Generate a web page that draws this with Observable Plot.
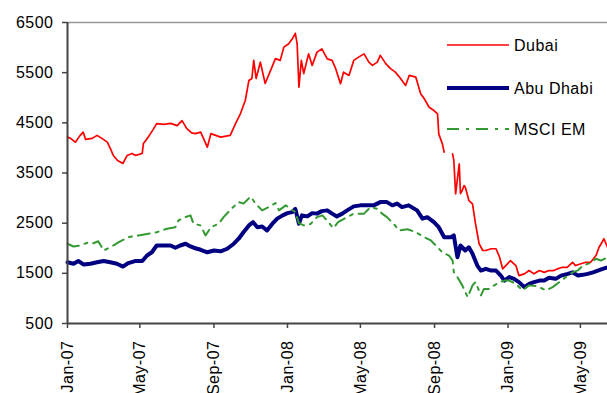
<!DOCTYPE html>
<html><head><meta charset="utf-8">
<script src="https://cdn.jsdelivr.net/npm/d3@7"></script>
<script src="https://cdn.jsdelivr.net/npm/@observablehq/plot@0.6"></script>
<style>
html,body{margin:0;padding:0;background:#fff;}
#chart{width:607px;height:393px;overflow:hidden;}
#chart svg text{letter-spacing:0.5px;}
</style></head><body><div id="chart"></div>
<script>
const seriesNames = ["Dubai", "Abu Dhabi", "MSCI EM"];
const seriesColors = ["#ff0000", "#000080", "#339933"];

const dubaiDates = ["2007-01-01","2007-01-06","2007-01-14","2007-01-22","2007-01-27","2007-01-31","2007-02-11","2007-02-19","2007-02-27","2007-03-08","2007-03-13","2007-03-18","2007-03-25","2007-04-03","2007-04-10","2007-04-18","2007-04-24","2007-05-05","2007-05-07","2007-05-15","2007-05-24","2007-05-29","2007-06-10","2007-06-21","2007-07-02","2007-07-10","2007-07-18","2007-07-26","2007-08-01","2007-08-10","2007-08-21","2007-08-27","2007-09-12","2007-09-28","2007-10-07","2007-10-15","2007-10-23","2007-10-29","2007-11-03","2007-11-06","2007-11-10","2007-11-17","2007-11-25","2007-12-04","2007-12-12","2007-12-20","2007-12-26","2008-01-03","2008-01-09","2008-01-14","2008-01-17","2008-01-20","2008-01-24","2008-01-28","2008-02-05","2008-02-11","2008-02-19","2008-02-27","2008-03-07","2008-03-15","2008-03-21","2008-03-29","2008-04-03","2008-04-12","2008-04-20","2008-04-28","2008-05-07","2008-05-15","2008-05-21","2008-05-29","2008-06-03","2008-06-12","2008-06-20","2008-06-28","2008-07-07","2008-07-15","2008-07-21","2008-08-01","2008-08-09","2008-08-15","2008-08-23","2008-08-31","2008-09-06","2008-09-08","2008-09-14","2008-09-17","2008-09-24","2008-10-01","2008-10-03","2008-10-06","2008-10-12","2008-10-14","2008-10-17","2008-10-20","2008-10-22","2008-10-28","2008-11-03","2008-11-08","2008-11-14","2008-11-20","2008-11-25","2008-12-04","2008-12-12","2008-12-18","2008-12-23","2008-12-31","2009-01-05","2009-01-14","2009-01-19","2009-01-28","2009-02-05","2009-02-13","2009-02-22","2009-03-02","2009-03-10","2009-03-18","2009-03-24","2009-04-01","2009-04-09","2009-04-18","2009-04-23","2009-05-02","2009-05-10","2009-05-18","2009-05-27","2009-06-01","2009-06-06","2009-06-09","2009-06-15"];
const dubaiValues = [4215,4190,4115,4250,4315,4170,4190,4250,4190,4115,3990,3850,3750,3690,3850,3890,3850,3890,4090,4215,4385,4485,4470,4490,4445,4545,4385,4300,4285,4315,4015,4285,4215,4250,4490,4685,4945,5345,5385,5745,5385,5710,5285,5545,5780,5745,6010,6075,6175,6285,6080,5210,5745,5480,5875,5645,5910,5975,5775,5745,5580,5280,5510,5445,5745,5810,5875,5710,5645,5710,5845,5680,5580,5510,5380,5245,5445,5410,5080,4980,4810,4745,4680,4280,4080,3915,null,3880,3750,3085,3680,3090,3150,3250,3220,2950,2885,2490,2090,1955,1955,1990,1990,1820,1590,1690,1755,1655,1455,1490,1555,1490,1555,1520,1555,1555,1590,1620,1620,1720,1655,1690,1720,1720,1855,2020,2120,2190,2020];

const abuDhabiDates = ["2007-01-01","2007-01-11","2007-01-19","2007-01-28","2007-02-08","2007-02-19","2007-03-02","2007-03-13","2007-03-24","2007-04-03","2007-04-12","2007-04-23","2007-05-05","2007-05-13","2007-05-21","2007-05-29","2007-06-10","2007-06-21","2007-06-29","2007-07-07","2007-07-16","2007-07-24","2007-08-01","2007-08-10","2007-08-21","2007-09-01","2007-09-12","2007-09-23","2007-10-04","2007-10-12","2007-10-20","2007-10-29","2007-11-05","2007-11-12","2007-11-20","2007-11-28","2007-12-07","2007-12-15","2007-12-24","2008-01-01","2008-01-09","2008-01-14","2008-01-20","2008-01-25","2008-02-03","2008-02-11","2008-02-19","2008-02-27","2008-03-07","2008-03-15","2008-03-23","2008-04-01","2008-04-09","2008-04-20","2008-05-01","2008-05-12","2008-05-23","2008-06-03","2008-06-14","2008-06-23","2008-07-01","2008-07-09","2008-07-20","2008-08-03","2008-08-12","2008-08-20","2008-08-31","2008-09-08","2008-09-17","2008-09-28","2008-10-03","2008-10-09","2008-10-14","2008-10-22","2008-10-28","2008-11-03","2008-11-11","2008-11-17","2008-11-25","2008-12-04","2008-12-12","2008-12-20","2008-12-26","2009-01-03","2009-01-11","2009-01-19","2009-01-28","2009-02-05","2009-02-13","2009-02-22","2009-03-02","2009-03-10","2009-03-21","2009-03-30","2009-04-10","2009-04-18","2009-04-27","2009-05-05","2009-05-13","2009-05-22","2009-05-30","2009-06-07","2009-06-15"];
const abuDhabiValues = [1720,1690,1745,1675,1690,1720,1745,1720,1690,1635,1705,1745,1745,1855,1920,2055,2055,2055,2010,2055,2090,2035,2000,1970,1920,1955,1940,1990,2090,2190,2320,2455,2520,2420,2435,2355,2490,2590,2655,2700,2720,2785,2490,2655,2635,2700,2690,2740,2755,2690,2635,2690,2755,2835,2855,2855,2855,2920,2920,2855,2890,2820,2855,2755,2590,2620,2520,2420,2220,2220,2255,1820,2055,1955,2020,1890,1655,1555,1590,1555,1555,1455,1355,1425,1390,1325,1225,1290,1325,1355,1355,1410,1390,1455,1490,1520,1455,1470,1490,1520,1555,1590,1620];

const msciDates = ["2007-01-01","2007-01-11","2007-01-22","2007-02-05","2007-02-13","2007-02-21","2007-03-02","2007-03-13","2007-03-27","2007-04-12","2007-04-29","2007-05-15","2007-05-29","2007-06-15","2007-06-29","2007-07-04","2007-07-15","2007-07-24","2007-07-29","2007-08-10","2007-08-18","2007-08-27","2007-09-09","2007-09-17","2007-10-01","2007-10-12","2007-10-20","2007-11-01","2007-11-09","2007-11-20","2007-12-01","2007-12-12","2007-12-18","2007-12-29","2008-01-06","2008-01-14","2008-01-20","2008-01-28","2008-02-08","2008-02-19","2008-02-28","2008-03-09","2008-03-17","2008-03-25","2008-04-09","2008-04-20","2008-05-07","2008-05-18","2008-05-29","2008-06-06","2008-06-14","2008-06-25","2008-07-04","2008-07-18","2008-08-01","2008-08-15","2008-08-26","2008-09-06","2008-09-14","2008-09-25","2008-10-01","2008-10-03","2008-10-09","2008-10-17","2008-10-26","2008-11-03","2008-11-08","2008-11-17","2008-11-22","2008-12-01","2008-12-09","2008-12-18","2008-12-26","2009-01-03","2009-01-14","2009-01-25","2009-02-05","2009-02-19","2009-03-05","2009-03-16","2009-03-27","2009-04-10","2009-04-18","2009-04-27","2009-05-05","2009-05-16","2009-05-27","2009-06-04","2009-06-15"];
const msciValues = [2090,2035,2055,2120,2100,2140,1955,2020,2120,2220,2255,2290,2320,2390,2420,2555,2620,2655,2490,2455,2255,2420,2490,2620,2800,2920,2890,3030,2890,2755,2820,2900,2755,2855,2785,2720,2500,2455,2480,2620,2655,2520,2400,2520,2620,2690,2690,2820,2785,2690,2620,2490,2355,2380,2320,2220,2155,2020,1920,1855,1755,1520,1425,1260,1025,1260,1325,1060,1190,1190,1260,1325,1355,1355,1290,1160,1260,1240,1160,1225,1325,1455,1520,1560,1655,1700,1790,1755,1820];

const yTicks = [500, 1500, 2500, 3500, 4500, 5500, 6500];
const xTickDates = ["2007-01-01","2007-05-01","2007-09-01","2008-01-01","2008-05-01","2008-09-01","2009-01-01","2009-05-01"];
const xDomain = ["2007-01-01", "2009-06-15"];
const yDomain = [500, 6500];

const toRows = (dates, values) => dates.map((d, i) => ({date: new Date(d), value: values[i]}));
const dubai = toRows(dubaiDates, dubaiValues);
const abuDhabi = toRows(abuDhabiDates, abuDhabiValues);
const msci = toRows(msciDates, msciValues);

const plot = Plot.plot({
  width: 607,
  height: 393,
  marginLeft: 67,
  marginRight: 0,
  marginTop: 22,
  marginBottom: 70,
  style: {fontFamily: "'Liberation Sans', Arial, sans-serif", fontSize: "16px", color: "#000", background: "#fff"},
  x: {type: "utc", domain: xDomain.map(d => new Date(d))},
  y: {domain: yDomain},
  marks: [
    Plot.ruleY([yDomain[1]], {stroke: "#999", strokeWidth: 1.5}),
    Plot.line(dubai, {x: "date", y: "value", stroke: seriesColors[0], strokeWidth: 1.7}),
    Plot.line(abuDhabi, {x: "date", y: "value", stroke: seriesColors[1], strokeWidth: 4, strokeLinejoin: "round"}),
    Plot.line(msci, {x: "date", y: "value", stroke: seriesColors[2], strokeWidth: 2, strokeDasharray: "12,6,3,6"}),
    Plot.ruleX([new Date(xDomain[0])], {stroke: "#444", strokeWidth: 2}),
    Plot.ruleY([yDomain[0]], {stroke: "#444", strokeWidth: 2}),
    Plot.axisY({ticks: yTicks, tickFormat: d => String(d), tickSize: 5, tickPadding: 9, label: null, stroke: "#444", strokeWidth: 1.5, fill: "#000"}),
    Plot.axisX({ticks: xTickDates.map(d => new Date(d)), tickFormat: d3.utcFormat("%b-%y"), tickRotate: -90, tickSize: 5, tickPadding: 12, label: null, stroke: "#444", strokeWidth: 1.5, fill: "#000"})
  ]
});
document.getElementById("chart").appendChild(plot);

// legend
const svg = d3.select(plot);
const legendY = [45, 88, 129];
const legendWidths = [1.7, 4, 2];
const legendDash = [null, null, "12,7,3,7"];
const g = svg.append("g").attr("text-anchor", "start");
seriesNames.forEach((name, i) => {
  g.append("line")
    .attr("x1", 447).attr("x2", 509)
    .attr("y1", legendY[i]).attr("y2", legendY[i])
    .attr("stroke", seriesColors[i])
    .attr("stroke-width", legendWidths[i])
    .attr("stroke-dasharray", legendDash[i]);
  g.append("text")
    .attr("x", 514).attr("y", legendY[i]).attr("dy", "0.36em")
    .attr("text-anchor", "start")
    .attr("fill", "#000")
    .text(name);
});
</script>
</body></html>
